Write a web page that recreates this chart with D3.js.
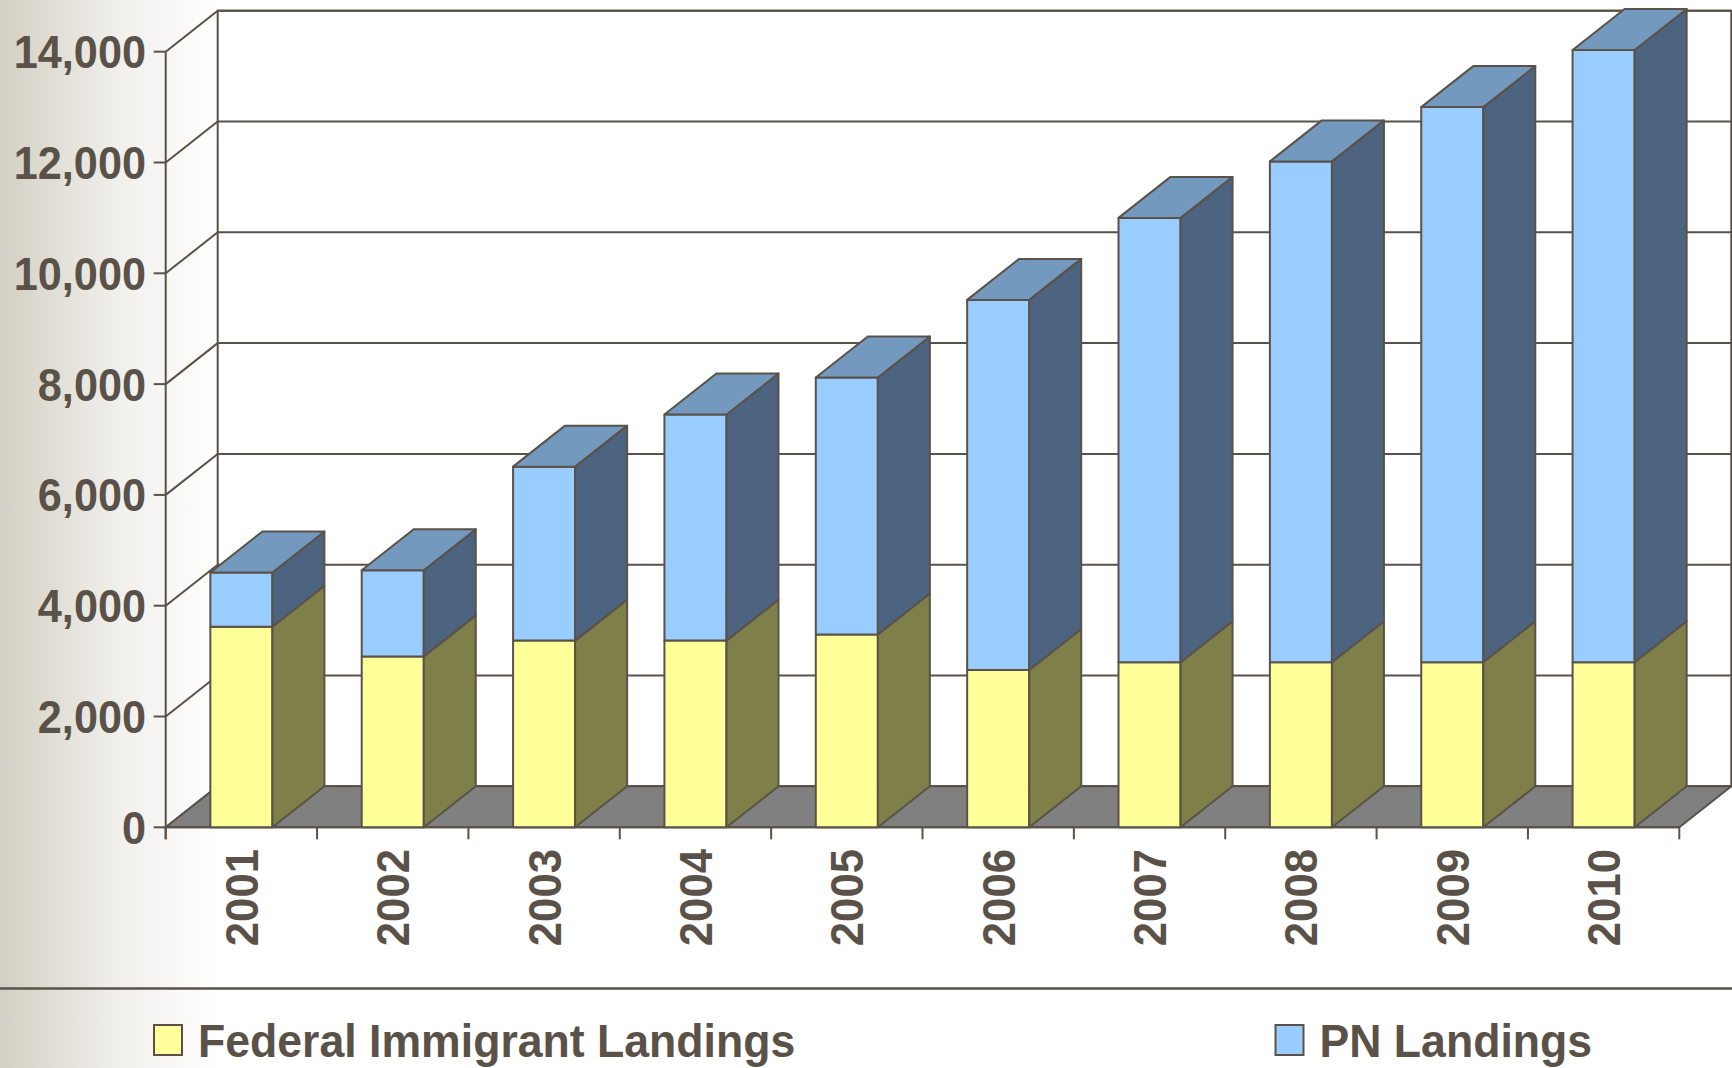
<!DOCTYPE html>
<html>
  <head>
    <title>landings</title>
    <style>
      html,
      body {
        padding: 0;
        margin: 0;
        background: #fff;
      }
      svg {
        display: block;
        font-family: 'Liberation Sans', Arial, sans-serif;
        font-weight: bold;
      }
    </style>
  </head>
  <body>
    <svg width="1732" height="1068"></svg>

    <script src="https://cdn.jsdelivr.net/npm/d3@7"></script>
    <script>
      const years = ['2001', '2002', '2003', '2004', '2005', '2006', '2007', '2008', '2009', '2010'];
      const federal = [3620, 3085, 3370, 3370, 3480, 2840, 2980, 2980, 2980, 2980];
      const pn = [980, 1555, 3140, 4080, 4640, 6680, 8020, 9040, 10020, 11050];
      const seriesNames = ['Federal Immigrant Landings', 'PN Landings'];
      const yTicks = [0, 2000, 4000, 6000, 8000, 10000, 12000, 14000];
    </script>
    <script>
      const svg = d3.select('svg');
      const ink = '#5a5248'; // 文字和线条颜色
      const dx = 52, dy = -41; // 3D 深度偏移

      // 左侧渐变背景
      const defs = svg.append('defs');
      const grad = defs.append('linearGradient').attr('id', 'bg').attr('x1', 0).attr('x2', 1);
      grad.append('stop').attr('offset', 0).attr('stop-color', '#d3cfc3');
      grad.append('stop').attr('offset', 0.55).attr('stop-color', '#f1f0ec');
      grad.append('stop').attr('offset', 1).attr('stop-color', '#fff');
      svg.append('rect').attr('width', 220).attr('height', 1068).attr('fill', 'url(#bg)');

      const x = d3.scaleBand().domain(years).range([165.7, 1679.3]);
      const y = d3.scaleLinear().domain([0, 14000]).range([827.3, 51.7]);
      const x0 = x.range()[0], x1 = x.range()[1];

      // 后墙
      svg.append('rect')
        .attr('x', x0 + dx).attr('y', y(14000) + dy)
        .attr('width', x1 - x0).attr('height', y(0) - y(14000))
        .attr('fill', '#fff').attr('stroke', ink).attr('stroke-width', 2);

      // 网格线（侧墙斜线 + 后墙横线）
      const grid = svg.append('g').attr('stroke', ink).attr('stroke-width', 2).attr('fill', 'none');
      yTicks.forEach((t) => {
        grid.append('path').attr('d', `M${x0},${y(t)}L${x0 + dx},${y(t) + dy}L${x1 + dx},${y(t) + dy}`);
      });

      // 地板
      svg.append('path')
        .attr('d', `M${x0},${y(0)}L${x0 + dx},${y(0) + dy}L${x1 + dx},${y(0) + dy}L${x1},${y(0)}Z`)
        .attr('fill', '#808080').attr('stroke', ink).attr('stroke-width', 2);

      // y 轴
      const axis = svg.append('g').attr('stroke', ink).attr('stroke-width', 2);
      axis.append('line').attr('x1', x0).attr('x2', x0).attr('y1', y(14000)).attr('y2', y(0) + 12);
      yTicks.forEach((t) => {
        axis.append('line').attr('x1', x0 - 12).attr('x2', x0).attr('y1', y(t)).attr('y2', y(t));
      });
      // x 轴刻度
      axis.append('line').attr('x1', x0).attr('x2', x1).attr('y1', y(0)).attr('y2', y(0));
      years.concat(['end']).forEach((yr, i) => {
        const px = x0 + i * x.step();
        axis.append('line').attr('x1', px).attr('x2', px).attr('y1', y(0)).attr('y2', y(0) + 12);
      });

      svg.append('g')
        .selectAll('text')
        .data(yTicks)
        .join('text')
        .attr('transform', (d) => `translate(146,${y(d)})scale(0.94,1)`)
        .attr('dy', '0.36em')
        .attr('text-anchor', 'end')
        .attr('font-size', 46)
        .attr('fill', ink)
        .text((d) => d3.format(',')(d));

      svg.append('g')
        .selectAll('text')
        .data(years)
        .join('text')
        .attr('transform', (d) => `translate(${x(d) + x.bandwidth() / 2},849)rotate(-90)scale(0.95,1)`)
        .attr('dy', '0.36em')
        .attr('text-anchor', 'end')
        .attr('font-size', 46)
        .attr('fill', ink)
        .text((d) => d);

      // 3D 柱
      const colors = [
        { front: '#ffff99', top: '#bfbf73', side: '#7f7f4a' },
        { front: '#99ccff', top: '#7399be', side: '#4d6480' },
      ];
      const bw = x.bandwidth() * 0.41;
      const bars = svg.append('g').attr('stroke', ink).attr('stroke-width', 2).attr('stroke-linejoin', 'round');
      years.forEach((yr, i) => {
        const left = x(yr) + (x.bandwidth() - bw) / 2;
        const right = left + bw;
        const stack = [[0, federal[i]], [federal[i], federal[i] + pn[i]]];
        stack.forEach(([v0, v1], s) => {
          const c = colors[s];
          const yb = y(v0), yt = y(v1);
          bars.append('rect').attr('x', left).attr('y', yt).attr('width', bw).attr('height', yb - yt).attr('fill', c.front);
          bars.append('path')
            .attr('d', `M${right},${yb}L${right + dx},${yb + dy}L${right + dx},${yt + dy}L${right},${yt}Z`)
            .attr('fill', c.side);
          if (s === stack.length - 1) {
            bars.append('path')
              .attr('d', `M${left},${yt}L${left + dx},${yt + dy}L${right + dx},${yt + dy}L${right},${yt}Z`)
              .attr('fill', c.top);
          }
        });
      });

      // 分隔线
      svg.append('line').attr('x1', 0).attr('x2', 1732).attr('y1', 988.5).attr('y2', 988.5)
        .attr('stroke', ink).attr('stroke-width', 2.5);

      // 图例
      const legendX = [154, 1275.5];
      const legend = svg.append('g')
        .selectAll('g')
        .data(seriesNames)
        .join('g')
        .attr('transform', (d, i) => `translate(${legendX[i]},1025)`);
      legend.append('rect').attr('width', 28).attr('height', 30)
        .attr('fill', (d, i) => colors[i].front).attr('stroke', ink).attr('stroke-width', 2);
      legend.append('text')
        .attr('transform', 'translate(44,32)scale(0.97,1)')
        .attr('font-size', 46).attr('fill', ink).text((d) => d);
    </script>
  </body>
</html>
